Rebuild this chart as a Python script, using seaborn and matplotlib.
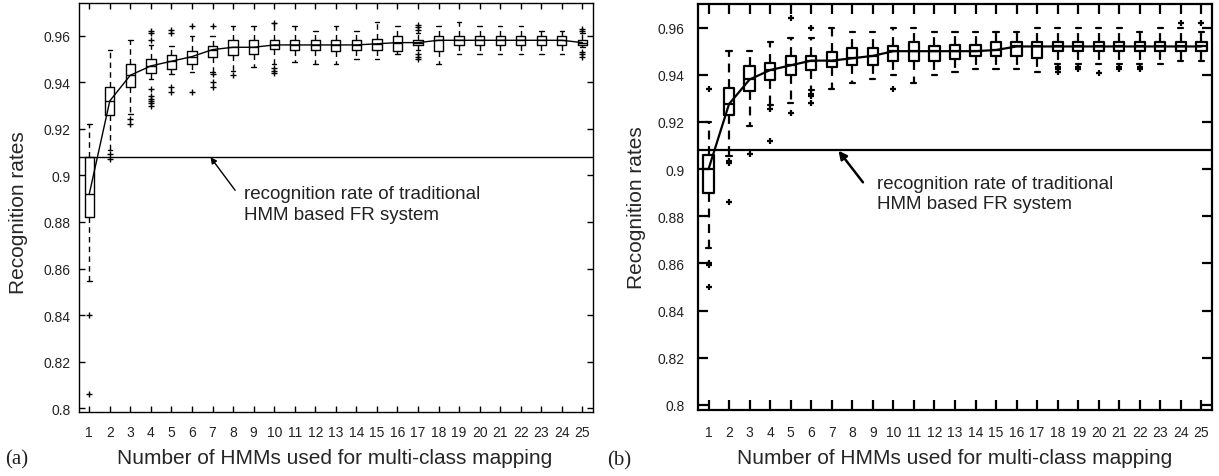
import matplotlib
matplotlib.use("Agg")
import matplotlib.pyplot as plt
import seaborn as sns

# ---------------- data ----------------
n_hmms = list(range(1, 26))
x_tick_labels = [str(i) for i in n_hmms]
y_ticks = [0.80, 0.82, 0.84, 0.86, 0.88, 0.90, 0.92, 0.94, 0.96]
y_tick_labels = ["0.8", "0.82", "0.84", "0.86", "0.88", "0.9", "0.92", "0.94", "0.96"]
baseline_rate = 0.908

# panel (a)
a_med = [0.892, 0.932, 0.943, 0.947, 0.949, 0.951, 0.954, 0.955, 0.955, 0.956,
         0.956, 0.956, 0.956, 0.956, 0.9565, 0.957, 0.957, 0.958, 0.958, 0.958,
         0.958, 0.958, 0.958, 0.958, 0.957]
a_q1 = [0.882, 0.926, 0.938, 0.944, 0.9457, 0.948, 0.9507, 0.9517, 0.952, 0.9543,
        0.954, 0.954, 0.9535, 0.954, 0.954, 0.9536, 0.956, 0.9536, 0.956, 0.956,
        0.956, 0.956, 0.956, 0.956, 0.956]
a_q3 = [0.908, 0.938, 0.948, 0.950, 0.9517, 0.9536, 0.9557, 0.958, 0.958, 0.958,
        0.958, 0.958, 0.958, 0.958, 0.9584, 0.960, 0.958, 0.960, 0.960, 0.960,
        0.960, 0.960, 0.960, 0.960, 0.958]
a_whislo = [0.8545, 0.911, 0.9265, 0.9415, 0.9436, 0.9445, 0.9443, 0.945, 0.9465, 0.948,
            0.9486, 0.948, 0.948, 0.950, 0.950, 0.952, 0.954, 0.948, 0.952, 0.952,
            0.952, 0.952, 0.952, 0.952, 0.955]
a_whishi = [0.922, 0.954, 0.958, 0.956, 0.9557, 0.960, 0.960, 0.964, 0.964, 0.9655,
            0.964, 0.962, 0.964, 0.962, 0.966, 0.964, 0.961, 0.964, 0.966, 0.964,
            0.964, 0.964, 0.962, 0.962, 0.961]
a_fliers = [[0.840, 0.806], [0.909, 0.907], [0.924, 0.922],
            [0.958, 0.961, 0.962, 0.937, 0.934, 0.933, 0.932, 0.931, 0.930],
            [0.961, 0.9625, 0.938, 0.936], [0.964, 0.936], [0.964, 0.9435, 0.940, 0.938],
            [0.943], [], [0.9655, 0.946, 0.945, 0.944], [], [], [], [], [], [],
            [0.9625, 0.9635, 0.9645, 0.952, 0.951, 0.950], [], [], [], [], [], [], [],
            [0.962, 0.963, 0.953, 0.952, 0.951]]

# panel (b)
b_med = [0.900, 0.9276, 0.938, 0.942, 0.944, 0.946, 0.946, 0.947, 0.948, 0.950,
         0.950, 0.950, 0.950, 0.950, 0.9505, 0.952, 0.952, 0.952, 0.952, 0.952,
         0.952, 0.952, 0.952, 0.952, 0.952]
b_q1 = [0.890, 0.9229, 0.9332, 0.9378, 0.9398, 0.942, 0.9431, 0.944, 0.944, 0.946,
        0.946, 0.946, 0.9466, 0.948, 0.948, 0.948, 0.947, 0.950, 0.950, 0.950,
        0.950, 0.950, 0.950, 0.950, 0.950]
b_q3 = [0.906, 0.9342, 0.9438, 0.9452, 0.948, 0.948, 0.9497, 0.9513, 0.9513, 0.952,
        0.954, 0.952, 0.9526, 0.9526, 0.954, 0.954, 0.954, 0.954, 0.954, 0.954,
        0.954, 0.954, 0.954, 0.954, 0.954]
b_whislo = [0.8665, 0.9057, 0.9184, 0.9271, 0.928, 0.9336, 0.934, 0.9365, 0.938, 0.940,
            0.9365, 0.940, 0.941, 0.9424, 0.9424, 0.9424, 0.941, 0.9446, 0.9446, 0.9446,
            0.9446, 0.9446, 0.9446, 0.946, 0.946]
b_whishi = [0.920, 0.950, 0.950, 0.9537, 0.9558, 0.9558, 0.960, 0.958, 0.958, 0.960,
            0.960, 0.958, 0.958, 0.958, 0.958, 0.958, 0.960, 0.960, 0.960, 0.960,
            0.960, 0.958, 0.960, 0.960, 0.958]
b_fliers = [[0.934, 0.860, 0.8595, 0.850], [0.9036, 0.9025, 0.886], [0.9064],
            [0.9255, 0.912], [0.964, 0.924], [0.960, 0.932, 0.931, 0.928],
            [], [], [], [0.934], [], [], [], [], [], [], [],
            [0.9435, 0.9425, 0.941], [0.9435, 0.9425], [0.9408], [0.9435, 0.9425],
            [0.9435, 0.9425], [], [0.962], [0.962]]

annotation_text = "recognition rate of traditional\nHMM based FR system"
x_label = "Number of HMMs used for multi-class mapping"
y_label = "Recognition rates"
panel_labels = ["(a)", "(b)"]

# ---------------- style ----------------
sns.set_theme(style="ticks")
plt.rcParams["font.family"] = ["Liberation Sans", "DejaVu Sans"]
plt.rcParams["axes.edgecolor"] = "black"
plt.rcParams["xtick.color"] = "black"
plt.rcParams["ytick.color"] = "black"
plt.rcParams["text.color"] = "#222222"

fig = plt.figure(figsize=(12.19, 4.77), dpi=100)
ax_a = fig.add_axes([0.0648, 0.1335, 0.4214, 0.8581])
ax_b = fig.add_axes([0.5728, 0.1390, 0.4212, 0.8505])


def draw_panel(ax, med, q1, q3, wlo, whi, fliers, lw, box_w, cap_w, ms, mew,
               tick_len, ylim, ypad, xpad):
    stats = [dict(med=m, q1=lo_q, q3=hi_q, whislo=lo, whishi=hi, fliers=f)
             for m, lo_q, hi_q, lo, hi, f in zip(med, q1, q3, wlo, whi, fliers)]
    ax.bxp(stats, positions=n_hmms, widths=box_w, capwidths=cap_w,
           showfliers=True, manage_ticks=False,
           boxprops=dict(color="black", lw=lw),
           whiskerprops=dict(color="black", lw=lw, linestyle=(0, (4, 3))),
           capprops=dict(color="black", lw=lw),
           medianprops=dict(color="black", lw=lw),
           flierprops=dict(marker="+", markeredgecolor="black", markersize=ms,
                           markeredgewidth=mew, linestyle="none"))
    sns.lineplot(x=n_hmms, y=med, color="black", lw=lw, ax=ax)
    ax.axhline(baseline_rate, color="black", lw=lw)
    ax.set_xlim(0.5, 25.5)
    ax.set_ylim(*ylim)
    ax.set_xticks(n_hmms)
    ax.set_xticklabels(x_tick_labels)
    ax.set_yticks(y_ticks)
    ax.set_yticklabels(y_tick_labels)
    ax.tick_params(axis="both", direction="in", top=True, right=True,
                   length=tick_len, width=lw, labelsize=10, colors="black")
    ax.tick_params(axis="x", pad=xpad, labelcolor="#222222")
    ax.tick_params(axis="y", pad=ypad, labelcolor="#222222")
    for s in ax.spines.values():
        s.set_linewidth(lw)
        s.set_color("black")
    ax.set_xlabel(x_label, fontsize=15)
    ax.set_ylabel(y_label, fontsize=15)


draw_panel(ax_a, a_med, a_q1, a_q3, a_whislo, a_whishi, a_fliers,
           lw=1.0, box_w=0.45, cap_w=0.22, ms=5, mew=1.0, tick_len=4,
           ylim=(0.7983, 0.974), ypad=6, xpad=9)
draw_panel(ax_b, b_med, b_q1, b_q3, b_whislo, b_whishi, b_fliers,
           lw=1.6, box_w=0.5, cap_w=0.25, ms=5, mew=1.6, tick_len=7,
           ylim=(0.798, 0.970), ypad=10, xpad=11)

ax_a.yaxis.set_label_coords(-0.100, 0.49)
ax_a.xaxis.set_label_coords(0.498, -0.088)
ax_b.yaxis.set_label_coords(-0.101, 0.5)
ax_b.xaxis.set_label_coords(0.5, -0.094)

# annotations
ax_a.annotate("", xy=(6.9, 0.9078), xytext=(8.1, 0.8936),
              arrowprops=dict(arrowstyle="-|>", color="black", lw=1.0,
                              mutation_scale=9, shrinkA=0, shrinkB=0))
ax_a.text(8.55, 0.8877, annotation_text, fontsize=13.5, va="center", ha="left",
          linespacing=1.25)
ax_b.annotate("", xy=(7.33, 0.9078), xytext=(8.52, 0.8944),
              arrowprops=dict(arrowstyle="-|>", color="black", lw=1.8,
                              mutation_scale=12, shrinkA=0, shrinkB=0))
ax_b.text(9.2, 0.8898, annotation_text, fontsize=13.5, va="center", ha="left",
          linespacing=1.25)

fig.text(5 / 1219, 1 - 460 / 477, panel_labels[0], fontsize=15, va="center",
         ha="left", family=["Liberation Serif", "DejaVu Serif"])
fig.text(607 / 1219, 1 - 461 / 477, panel_labels[1], fontsize=15, va="center",
         ha="left", family=["Liberation Serif", "DejaVu Serif"])

fig.savefig("out.png", dpi=100)
